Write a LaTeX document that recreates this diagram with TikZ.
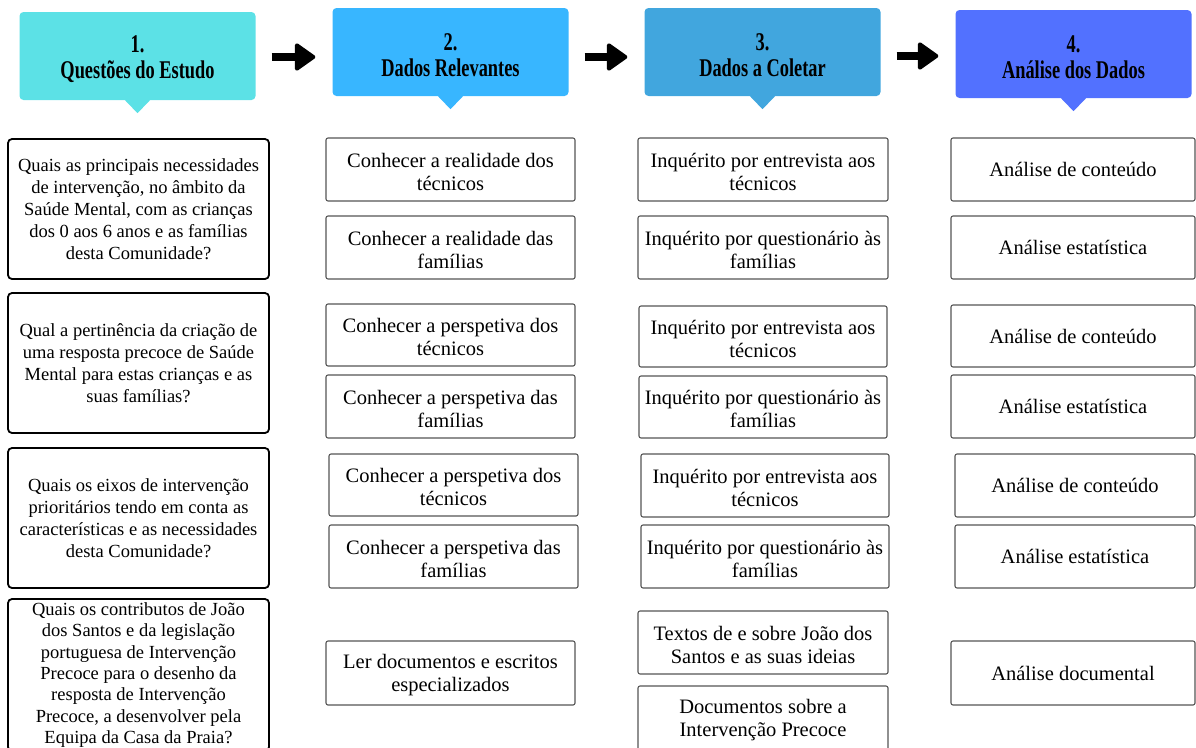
\documentclass[tikz,border=0pt]{standalone}
\usepackage{fontspec}
\setmainfont{Liberation Serif}
\newfontfamily\hdrfont[FakeStretch=0.72]{Liberation Serif}
\usetikzlibrary{arrows.meta,calc}
\definecolor{hA}{HTML}{5CE1E6}
\definecolor{hB}{HTML}{38B6FF}
\definecolor{hC}{HTML}{41A6DE}
\definecolor{hD}{HTML}{5271FF}
\definecolor{cellline}{HTML}{555555}
\newcommand\myhstrut{\rule{0pt}{23pt}}
\newcommand\mycstrut{\rule{0pt}{19pt}}
\begin{document}
\begin{tikzpicture}[x=1pt,y=-1pt,
  hdr/.style={rounded corners=4pt, minimum width=236pt, minimum height=88pt, align=center, inner sep=0pt,
    font=\hdrfont\bfseries\fontsize{25.5}{26}\selectfont},
  qbox/.style={draw=black, line width=1.8pt, rounded corners=4pt, minimum width=261pt, minimum height=140pt,
    align=center, inner sep=0pt, font=\fontsize{18.5}{22}\selectfont},
  cell/.style={draw=cellline, line width=1.1pt, rounded corners=2pt, minimum width=249pt, minimum height=63pt,
    align=center, inner sep=0pt, font=\fontsize{20.5}{23}\selectfont},
  fat/.style={line width=8pt, -{Triangle[width=30pt,length=22pt,line width=4pt,round]}, shorten <=16pt, shorten >=17pt}
]
\useasboundingbox (0,0) rectangle (1196,747);

% headers
\node[hdr, fill=hA] (h1) at (137.5,56) {\myhstrut 1.\\Questões do Estudo};
\node[hdr, fill=hB] (h2) at (450.5,52) {\myhstrut 2.\\Dados Relevantes};
\node[hdr, fill=hC] (h3) at (762.5,52) {\myhstrut 3.\\Dados a Coletar};
\node[hdr, fill=hD] (h4) at (1073.5,54) {\myhstrut 4.\\Análise dos Dados};
\foreach \h/\c in {h1/hA,h2/hB,h3/hC,h4/hD}{
  \fill[\c] ([xshift=-13pt,yshift=0.5pt]\h.south) -- ([xshift=13pt,yshift=0.5pt]\h.south) -- ([yshift=-13pt]\h.south) -- cycle;
}
\draw[fat] ([yshift=-1pt]h1.east) -- ([yshift=-1pt]h1.east -| h2.west);
\draw[fat] ([yshift=-5pt]h2.east) -- ([yshift=-5pt]h3.west);
\draw[fat] ([yshift=-4pt]h3.east) -- ([yshift=-4pt]h3.east -| h4.west);

% column 1
\node[qbox] (q1) at (138.5,209) {Quais as principais necessidades\\de intervenção, no âmbito da\\Saúde Mental, com as crianças\\dos 0 aos 6 anos e as famílias\\desta Comunidade?};
\node[qbox] (q2) at (138.5,363) {Qual a pertinência da criação de\\uma resposta precoce de Saúde\\Mental para estas crianças e as\\suas famílias?};
\node[qbox] (q3) at (138.5,518) {Quais os eixos de intervenção\\prioritários tendo em conta as\\características e as necessidades\\desta Comunidade?};
\node[qbox, minimum height=152pt, font=\fontsize{18.5}{21.3}\selectfont] (q4) at (138.5,675) {Quais os contributos de João\\dos Santos e da legislação\\portuguesa de Intervenção\\Precoce para o desenho da\\resposta de Intervenção\\Precoce, a desenvolver pela\\Equipa da Casa da Praia?};

% column 2
\node[cell] (b1) at (450.5,169.5) {\mycstrut Conhecer a realidade dos\\técnicos};
\node[cell] (b2) at (450.5,247.5) {\mycstrut Conhecer a realidade das\\famílias};
\node[cell, minimum height=62pt] (b3) at (450.5,335) {\mycstrut Conhecer a perspetiva dos\\técnicos};
\node[cell] (b4) at (450.5,406.5) {\mycstrut Conhecer a perspetiva das\\famílias};
\node[cell, minimum height=62pt] (b5) at (453.5,485) {\mycstrut Conhecer a perspetiva dos\\técnicos};
\node[cell] (b6) at (453.5,556.5) {\mycstrut Conhecer a perspetiva das\\famílias};
\node[cell, minimum height=64pt] (b7) at (450.5,673) {\mycstrut Ler documentos e escritos\\especializados};

% column 3
\node[cell, minimum width=250pt] (c1) at (763,169.5) {\mycstrut Inquérito por entrevista aos\\técnicos};
\node[cell, minimum width=250pt] (c2) at (763,247.5) {\mycstrut Inquérito por questionário às\\famílias};
\node[cell, minimum width=248pt, minimum height=61pt] (c3) at (763,336.5) {\mycstrut Inquérito por entrevista aos\\técnicos};
\node[cell, minimum width=248pt, minimum height=62pt] (c4) at (763,407) {\mycstrut Inquérito por questionário às\\famílias};
\node[cell, minimum width=248pt] (c5) at (765,485.5) {\mycstrut Inquérito por entrevista aos\\técnicos};
\node[cell, minimum width=248pt] (c6) at (765,556.5) {\mycstrut Inquérito por questionário às\\famílias};
\node[cell, minimum width=250pt] (c7) at (763,642.5) {\mycstrut Textos de e sobre João dos\\Santos e as suas ideias};
\node[cell, minimum width=250pt, minimum height=64pt] (c8) at (763,718) {\mycstrut Documentos sobre a\\Intervenção Precoce};

% column 4
\node[cell, minimum width=244pt] (d1) at (1073,169.5) {Análise de conteúdo};
\node[cell, minimum width=244pt] (d2) at (1073,247.5) {Análise estatística};
\node[cell, minimum width=244pt, minimum height=62pt] (d3) at (1073,336) {Análise de conteúdo};
\node[cell, minimum width=244pt] (d4) at (1073,406.5) {Análise estatística};
\node[cell, minimum width=240pt] (d5) at (1075,485.5) {Análise de conteúdo};
\node[cell, minimum width=240pt] (d6) at (1075,556.5) {Análise estatística};
\node[cell, minimum width=244pt, minimum height=64pt] (d7) at (1073,673) {Análise documental};
\end{tikzpicture}
\end{document}
